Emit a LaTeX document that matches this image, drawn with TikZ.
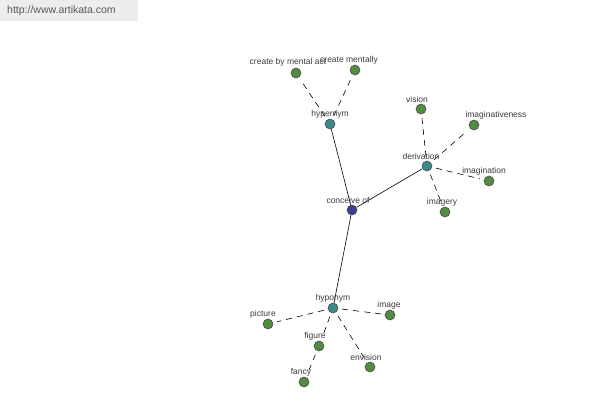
\documentclass[tikz,border=0pt]{standalone}
\usepackage{fontspec}
\setmainfont{Liberation Sans}
\begin{document}
\begin{tikzpicture}[x=1pt,y=-1pt,
  leaf/.style={circle,draw=black!70,fill={rgb,255:red,82;green,140;blue,64},inner sep=0pt,minimum size=10pt,line width=0.6pt},
  mid/.style={circle,draw=black!70,fill={rgb,255:red,58;green,138;blue,140},inner sep=0pt,minimum size=10pt,line width=0.6pt},
  root/.style={circle,draw=black!70,fill={rgb,255:red,60;green,64;blue,140},inner sep=0pt,minimum size=10pt,line width=0.6pt},
  lbl/.style={font=\fontsize{8.5}{9}\selectfont,text={rgb,255:red,60;green,60;blue,60},inner sep=0pt},
  solidedge/.style={draw=black,line width=0.6pt},
  dashedge/.style={draw=black,line width=0.6pt,dash pattern=on 6pt off 5pt,shorten <=4pt,shorten >=4pt}]
\useasboundingbox (0,0) rectangle (600,400);
\fill[white] (0,0) rectangle (600,400);
\fill[black!7] (0,0) rectangle (138,21);
\node[font=\fontsize{10.5}{12}\selectfont,text=black!65,anchor=west,inner sep=0pt] (wm) at (7,11) {http://www.artikata.com};
% nodes
\node[root] (c) at (352,210) {};
\node[mid] (hyper) at (330,124) {};
\node[mid] (der) at (427,166) {};
\node[mid] (hypo) at (333,308) {};
\node[leaf] (cma) at (296,73) {};
\node[leaf] (cm) at (355,70) {};
\node[leaf] (vis) at (421,109) {};
\node[leaf] (imv) at (474,125) {};
\node[leaf] (imn) at (489,181) {};
\node[leaf] (imy) at (445,212) {};
\node[leaf] (pic) at (268,324) {};
\node[leaf] (img) at (390,315) {};
\node[leaf] (fig) at (319,346) {};
\node[leaf] (env) at (370,367) {};
\node[leaf] (fan) at (304,382) {};
% edges
\draw[solidedge] (c) -- (hyper);
\draw[solidedge] (c) -- (der);
\draw[solidedge] (c) -- (hypo);
\draw[dashedge] (hyper) -- (cma);
\draw[dashedge] (hyper) -- (cm);
\draw[dashedge] (der) -- (vis);
\draw[dashedge] (der) -- (imv);
\draw[dashedge] (der) -- (imn);
\draw[dashedge] (der) -- (imy);
\draw[dashedge] (hypo) -- (pic);
\draw[dashedge] (hypo) -- (img);
\draw[dashedge] (hypo) -- (fig);
\draw[dashedge] (hypo) -- (env);
\draw[dashedge] (fig) -- (fan);
% labels
\node[lbl] (lc) at (348,200) {conceive of};
\node[lbl] (lhyper) at (330,114) {hypernym};
\node[lbl] (lder) at (421,156) {derivation};
\node[lbl] (lhypo) at (333,298) {hyponym};
\node[lbl] (lcma) at (288,62) {create by mental act};
\node[lbl] (lcm) at (349,60) {create mentally};
\node[lbl] (lvis) at (417,99) {vision};
\node[lbl] (limv) at (496,115) {imaginativeness};
\node[lbl] (limn) at (484,171) {imagination};
\node[lbl] (limy) at (442,202) {imagery};
\node[lbl] (lpic) at (263,314) {picture};
\node[lbl] (limg) at (389,305) {image};
\node[lbl] (lfig) at (315,336) {figure};
\node[lbl] (lenv) at (366,357) {envision};
\node[lbl] (lfan) at (301,372) {fancy};
\end{tikzpicture}
\end{document}
